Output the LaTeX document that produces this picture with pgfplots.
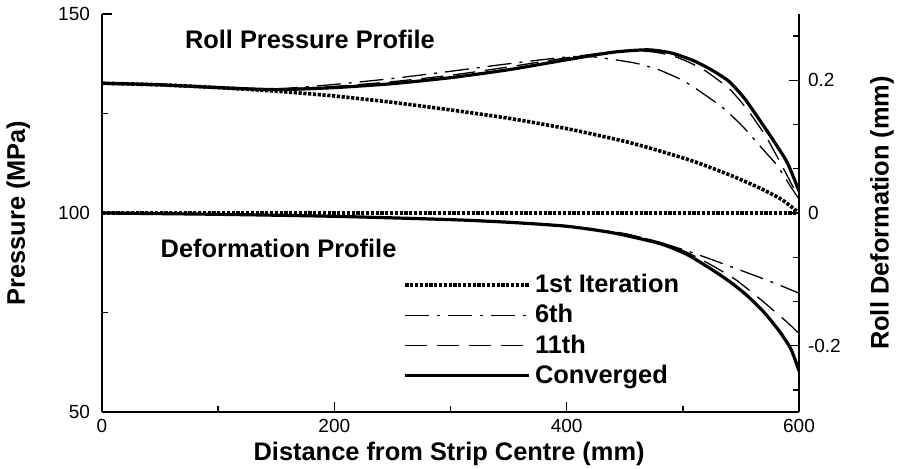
\documentclass[border=0pt]{standalone}
\usepackage{fontspec}
\setmainfont{Liberation Sans}
\usepackage{pgfplots}
\pgfplotsset{compat=1.18}

\pgfplotsset{
 common/.style={
  scale only axis, width=348.5pt, height=199pt,
  xmin=0, xmax=600,
  tick align=inside,
  major tick length=5pt, minor tick length=2.8pt,
  every tick/.style={black, line width=0.7pt},
  axis line style={line width=1pt},
  tick label style={font=\fontsize{9.5}{11}\selectfont},
  label style={font=\fontsize{12.7}{14}\selectfont\bfseries},
  /pgf/number format/assume math mode=true,
 },
 firstit/.style={black, line width=1.8pt, dash pattern=on 1.6pt off 0.8pt},
 sixth/.style={black, line width=0.65pt, dash pattern=on 12pt off 4pt on 1.5pt off 4pt},
 eleventh/.style={black, line width=0.65pt, dash pattern=on 11pt off 5pt},
 conv/.style={black, line width=1.6pt},
}

\pgfplotstableread{
x    y
0    132.6
50   132.2
100  131.5
150  130.6
200  129.4
250  127.8
300  125.9
350  123.8
400  121.2
450  118.0
480  115.6
510  112.9
540  109.6
566  106.3
585  103.4
600  100.0
}\pfirst

\pgfplotstableread{
x    y
0    132.6
50   132.2
100  131.5
150  131.2
200  132.3
250  133.8
300  135.6
350  137.5
400  139.2
420  139.3
437  138.7
460  137.6
480  135.9
500  133.3
515  130.5
535  126.3
552  121.6
568  116.3
581  112.0
592  107.0
600  103.5
}\psixth

\pgfplotstableread{
x    y
0    132.6
50   132.2
100  131.5
150  131.1
200  131.8
250  133.0
300  134.6
350  136.7
400  139.0
440  140.5
470  140.6
490  139.6
505  137.9
520  135.6
540  131.2
556  125.8
572  119.0
586  111.5
595  106.5
600  104.0
}\peleventh

\pgfplotstableread{
x    y
0    132.6
50   132.2
100  131.5
150  131.0
200  131.5
250  132.5
300  134.0
350  136.0
400  138.5
440  140.4
470  141.0
490  140.2
509  138.3
525  135.9
540  133.0
553  128.8
566  123.4
578  118.2
590  112.6
600  105.5
}\pconv

\pgfplotstableread{
x    y
0    0
600  0
}\dfirst

\pgfplotstableread{
x    y
0    0
100  -0.002
200  -0.005
300  -0.010
350  -0.014
400  -0.020
450  -0.031
489  -0.049
515  -0.064
543  -0.082
566  -0.097
585  -0.110
600  -0.121
}\dsixth

\pgfplotstableread{
x    y
0    0
100  -0.002
200  -0.005
300  -0.010
350  -0.014
400  -0.020
450  -0.032
480  -0.044
503  -0.059
523  -0.077
545  -0.100
566  -0.129
590  -0.165
600  -0.182
}\deleventh

\pgfplotstableread{
x    y
0    0
100  -0.002
200  -0.005
300  -0.010
350  -0.014
400  -0.020
440  -0.030
480  -0.046
503  -0.062
523  -0.083
540  -0.103
555  -0.124
570  -0.150
583  -0.178
593  -0.205
600  -0.238
}\dconv

\begin{document}
\begin{tikzpicture}
\begin{axis}[common, name=ax1,
  axis x line*=bottom, axis y line*=left,
  ymin=50, ymax=150,
  ytick={50,100,150}, minor ytick={75,125},
  xtick={0,200,400,600}, minor xtick={100,300,500},
  yticklabel style={xshift=-2.5pt},
  xlabel={Distance from Strip Centre (mm)},
  ylabel={Pressure (MPa)},
  xlabel style={at={(axis description cs:0.498,-0.123)}, anchor=base},
  ylabel style={at={(axis description cs:-0.12,0.5)}, anchor=center},
  legend image code/.code={\draw[#1] (0pt,0pt) -- (62pt,0pt);},
  legend style={at={(axis description cs:0.432,0.357)}, anchor=north west,
    draw=none, fill=none, inner sep=0pt, row sep=0.4pt,
    font=\fontsize{12.7}{14}\selectfont\bfseries},
  legend cell align=left,
]
\addplot[firstit, smooth, tension=0.4] table[x=x,y=y] {\pfirst};
\addlegendentry{1st Iteration}
\addplot[sixth, smooth, tension=0.4] table[x=x,y=y] {\psixth};
\addlegendentry{6th}
\addplot[eleventh, smooth, tension=0.4] table[x=x,y=y] {\peleventh};
\addlegendentry{11th}
\addplot[conv, smooth, tension=0.4] table[x=x,y=y] {\pconv};
\addlegendentry{Converged}
\node[font=\fontsize{12.7}{14}\selectfont\bfseries] at (axis cs:179,143.5) {Roll Pressure Profile};
\node[font=\fontsize{12.7}{14}\selectfont\bfseries] at (axis cs:152,91.2) {Deformation Profile};
\end{axis}
\begin{axis}[common,
  axis x line=none, axis y line*=right,
  ymin=-0.3, ymax=0.3,
  ytick={-0.2,0,0.2},
  minor ytick={-0.2667,-0.1333,-0.0667,0.0667,0.1333,0.2667},
  ylabel={Roll Deformation (mm)},
  ylabel style={at={(axis description cs:1.119,0.5)}, anchor=center},
  yticklabel style={/pgf/number format/fixed, xshift=1pt},
]
\addplot[firstit] table[x=x,y=y] {\dfirst};
\addplot[sixth, smooth, tension=0.4] table[x=x,y=y] {\dsixth};
\addplot[eleventh, smooth, tension=0.4] table[x=x,y=y] {\deleventh};
\addplot[conv, smooth, tension=0.4] table[x=x,y=y] {\dconv};
\end{axis}
\coordinate (bl) at ([xshift=-51pt,yshift=-28.5pt]ax1.south west);
\coordinate (tr) at ([xshift=51.5pt,yshift=7pt]ax1.north east);
\pgfresetboundingbox
\useasboundingbox (bl) rectangle (tr);
\end{tikzpicture}
\end{document}
